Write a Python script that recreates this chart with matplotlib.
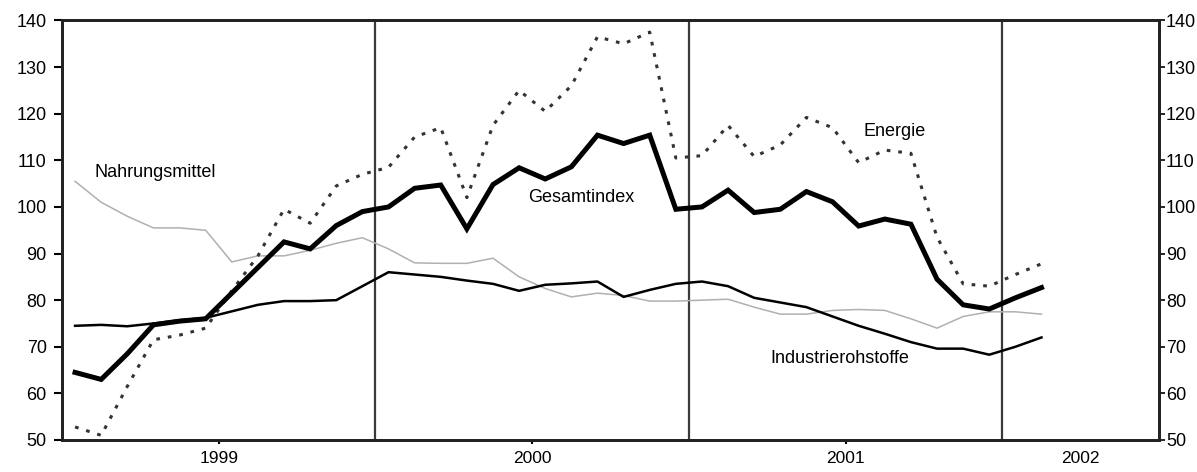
import numpy as np
import matplotlib.pyplot as plt

plt.rcParams['font.family'] = ['Liberation Sans', 'DejaVu Sans']

# monthly index values, Jan 1999 - Feb 2002
gesamtindex = [64.5, 63, 68.5, 74.7, 75.5, 76, 81.5, 87, 92.5, 91, 96, 99,
               100, 104, 104.7, 95.3, 104.8, 108.4, 106, 108.6, 115.4, 113.6, 115.4, 99.5,
               100, 103.6, 98.8, 99.5, 103.3, 101.1, 95.9, 97.4, 96.3, 84.5, 79, 78.1,
               80.5, 82.7]
energie = [52.8, 51, 61.5, 71.5, 72.5, 74, 82, 89.5, 99.5, 96.5, 104.5, 107,
           108.5, 115, 117, 102, 117.5, 125, 120.5, 126, 136.5, 135, 137.5, 110.5,
           111, 117.5, 110.8, 113.3, 119.2, 117, 109.5, 112.2, 111.5, 93.5, 83.5, 83,
           85.5, 87.8]
industrie = [74.5, 74.7, 74.4, 75, 75.7, 76.2, 77.6, 79, 79.8, 79.8, 80, 83,
             86, 85.5, 85, 84.2, 83.5, 82, 83.3, 83.6, 84, 80.7, 82.2, 83.5,
             84, 83, 80.5, 79.5, 78.5, 76.5, 74.5, 72.8, 71, 69.6, 69.6, 68.3,
             70, 72]
nahrung = [105.5, 101, 98, 95.5, 95.5, 95, 88.2, 89.5, 89.5, 90.7, 92.2, 93.4,
           91, 88, 87.9, 87.9, 89, 85, 82.5, 80.7, 81.5, 81, 79.8, 79.8,
           80, 80.2, 78.5, 77, 77, 77.8, 78, 77.8, 76, 74, 76.5, 77.5,
           77.5, 77]
years = ['1999', '2000', '2001', '2002']

months = np.arange(len(gesamtindex)) + 0.5

fig = plt.figure(figsize=(11.97, 4.72), dpi=100)
ax = fig.add_axes([0.0518, 0.0678, 0.9165, 0.8888])

# year separators
for b in [12, 24, 36]:
    ax.axvline(b, color='#3a3a3a', lw=1.6, zorder=1)

ax.plot(months, nahrung, color='#b0b0b0', lw=1.1, zorder=2)
ax.plot(months, industrie, color='black', lw=1.8, zorder=3)
ax.plot(months, energie, color='#333333', lw=2.2, linestyle=(0, (1.2, 2.6)), zorder=3)
ax.plot(months, gesamtindex, color='black', lw=3.6, zorder=4, solid_joinstyle='miter')

ax.text(1.26, 107.3, 'Nahrungsmittel', fontsize=13, ha='left', va='center')
ax.text(19.87, 102.1, 'Gesamtindex', fontsize=13, ha='center', va='center')
ax.text(31.87, 116.1, 'Energie', fontsize=13, ha='center', va='center')
ax.text(29.79, 67.4, 'Industrierohstoffe', fontsize=13, ha='center', va='center')

ax.set_xlim(0, 42)
ax.set_ylim(50, 140)
ax.set_yticks(np.arange(50, 141, 10))
ax.set_xticks([6, 18, 30, 39])
ax.set_xticklabels(years)
ax.xaxis.get_major_ticks()[-1].tick1line.set_visible(False)
ax.tick_params(axis='x', length=3, width=1.5, pad=5, labelsize=12.5)
ax.tick_params(axis='y', length=6, width=1.5, pad=5, labelsize=13)

ax2 = ax.twinx()
ax2.set_ylim(50, 140)
ax2.set_yticks(np.arange(50, 141, 10))
ax2.tick_params(axis='y', length=4, width=1.2, pad=1, labelsize=13)

for a in (ax, ax2):
    for s in a.spines.values():
        s.set_linewidth(2)
        s.set_color('#222222')

fig.savefig('out.png', dpi=100)
